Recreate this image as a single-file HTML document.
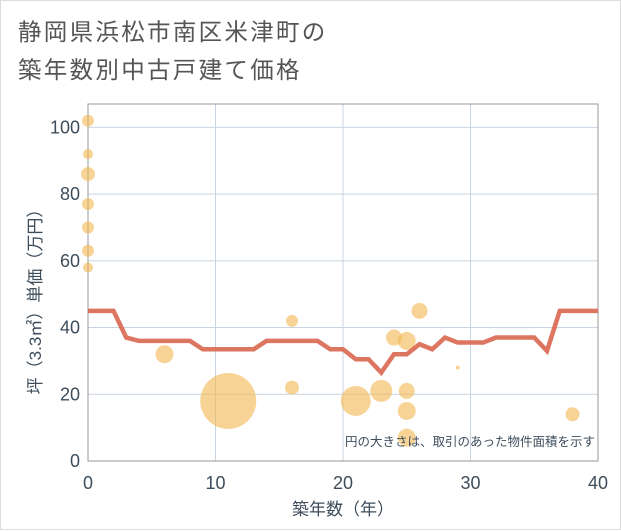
<!DOCTYPE html>
<html><head><meta charset="utf-8"><style>
body{margin:0;background:#fff;font-family:"Liberation Sans","Noto Sans CJK JP",sans-serif;}
#wrap{position:relative;width:619px;height:528px;border:1px solid #ddd;background:#fff;}
.title{position:absolute;left:17px;top:12px;font-size:23.5px;line-height:38px;color:#555;letter-spacing:2.3px;}
</style></head><body>
<div id="wrap">
<div class="title">静岡県浜松市南区米津町の<br>築年数別中古戸建て価格</div>
<svg id="chart" width="621" height="530" style="position:absolute;left:0;top:0"></svg>
</div>
<script>
const xTicks=[0,10,20,30,40];
const yTicks=[0,20,40,60,80,100];
const lineYears=[0,1,2,3,4,5,6,7,8,9,10,11,12,13,14,15,16,17,18,19,20,21,22,23,24,25,26,27,28,29,30,31,32,33,34,35,36,37,38,39,40];
const lineValues=[45,45,45,37,36,36,36,36,36,33.5,33.5,33.5,33.5,33.5,36,36,36,36,36,33.5,33.5,30.5,30.5,26.5,32,32,35,33.5,37,35.5,35.5,35.5,37,37,37,37,33,45,45,45,45];
const bubbleYears=[0,0,0,0,0,0,0,6,11,16,16,21,23,24,25,26,25,25,25,29,38];
const bubbleValues=[102,92,86,77,70,63,58,32,18,42,22,18,21,37,36,45,21,15,7,28,14];
const bubbleSizes=[6,5,7,6,6,6,5,9,28,6,7,15,11,8,9,8,8,9,9,2,7];
const NS='http://www.w3.org/2000/svg';
const L=87,R=597,T=103,B=460;
const xs=v=>L+(v/40)*(R-L);
const ys=v=>B-(v/107)*(B-T);
const svg=document.getElementById('chart');
const TXT='#3d4d5c';
function mk(tag,attrs,parent){const e=document.createElementNS(NS,tag);for(const k in attrs)e.setAttribute(k,attrs[k]);(parent||svg).appendChild(e);return e;}
const grid=mk('g',{});


xTicks.forEach(t=>{const l=mk('line',{x1:xs(t),x2:xs(t),y1:T,y2:B,stroke:'#c8d4e0','stroke-width':1},grid);


const tx=mk('text',{x:xs(t),y:B+28,'text-anchor':'middle','font-size':18,fill:TXT});tx.textContent=t;

});
yTicks.forEach(t=>{const l=mk('line',{x1:L,x2:R,y1:ys(t),y2:ys(t),stroke:'#c8d4e0','stroke-width':1},grid);


const tx=mk('text',{x:L-8,y:ys(t)+6,'text-anchor':'end','font-size':18,fill:TXT});tx.textContent=t;

});
const frame=mk('rect',{x:L,y:T,width:R-L,height:B-T,fill:'none',stroke:'#999','stroke-width':1});


const bg=mk('g',{});
bubbleYears.forEach((yr,i)=>{const c=mk('circle',{cx:xs(yr),cy:ys(bubbleValues[i]),r:bubbleSizes[i],fill:'#f2b750','fill-opacity':0.6},bg);

});
const pts=lineYears.map((y,i)=>xs(y)+','+ys(lineValues[i])).join(' ');
const pl=mk('polyline',{points:pts,fill:'none',stroke:'#d9674f','stroke-width':4.5,'stroke-opacity':0.9,'stroke-linejoin':'miter'});


const note=mk('text',{x:R-3,y:B-15,'text-anchor':'end','font-size':12.5,fill:TXT});note.textContent='円の大きさは、取引のあった物件面積を示す';


const xt=mk('text',{x:(L+R)/2,y:514,'text-anchor':'middle','font-size':17,fill:TXT});xt.textContent='築年数（年）';


const yt=mk('text',{x:0,y:0,'text-anchor':'middle','font-size':17,fill:TXT,transform:'translate(40,'+((T+B)/2+15)+') rotate(-90)'});yt.textContent='坪（3.3㎡）単価（万円）';


</script>
</body></html>
